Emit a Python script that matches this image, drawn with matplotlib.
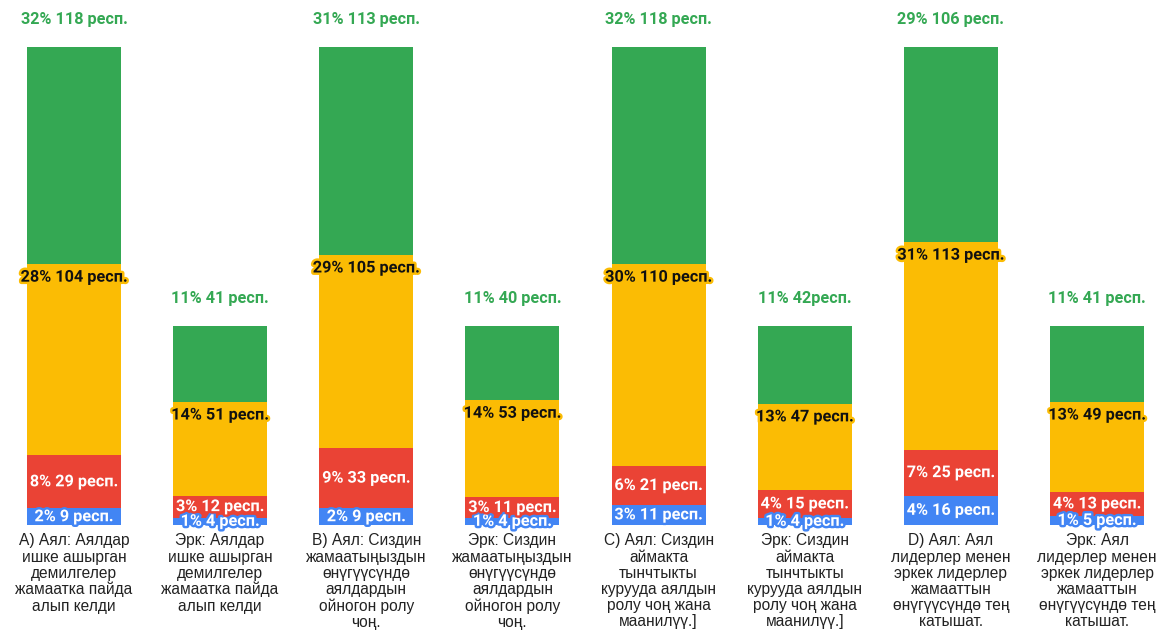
import matplotlib.pyplot as plt
import matplotlib.patheffects as pe
import numpy as np

# data (respondent counts and percents)
categories = [
    "А) Аял: Аялдар\nишке ашырган\nдемилгелер\nжамаатка пайда\nалып келди",
    "Эрк: Аялдар\nишке ашырган\nдемилгелер\nжамаатка пайда\nалып келди",
    "В) Аял: Сиздин\nжамаатыңыздын\nөнүгүүсүндө\nаялдардын\nойногон ролу\nчоң.",
    "Эрк: Сиздин\nжамаатыңыздын\nөнүгүүсүндө\nаялдардын\nойногон ролу\nчоң.",
    "С) Аял: Сиздин\nаймакта\nтынчтыкты\nкурууда аялдын\nролу чоң жана\nмаанилүү.]",
    "Эрк: Сиздин\nаймакта\nтынчтыкты\nкурууда аялдын\nролу чоң жана\nмаанилүү.]",
    "D) Аял: Аял\nлидерлер менен\nэркек лидерлер\nжамааттын\nөнүгүүсүндө тең\nкатышат.",
    "Эрк: Аял\nлидерлер менен\nэркек лидерлер\nжамааттын\nөнүгүүсүндө тең\nкатышат.",
]
blue = [9, 4, 9, 4, 11, 4, 16, 5]
red = [29, 12, 33, 11, 21, 15, 25, 13]
yellow = [104, 51, 105, 53, 110, 47, 113, 49]
green = [118, 41, 113, 40, 118, 42, 106, 41]
blue_pct = [2, 1, 2, 1, 3, 1, 4, 1]
red_pct = [8, 3, 9, 3, 6, 4, 7, 4]
yellow_pct = [28, 14, 29, 14, 30, 13, 31, 13]
green_labels = ["32% 118 респ.", "11% 41 респ.", "31% 113 респ.", "11% 40 респ.",
                "32% 118 респ.", "11% 42респ.", "29% 106 респ.", "11% 41 респ."]

c_blue = "#4285F4"
c_red = "#EA4335"
c_yellow = "#FBBC04"
c_green = "#34A853"

fig = plt.figure(figsize=(11.64, 6.33), dpi=100)
ax = fig.add_axes([0, 0.1706, 1, 0.8294])

x = np.arange(len(categories))
w = 0.643
b1 = np.array(blue)
b2 = b1 + np.array(red)
b3 = b2 + np.array(yellow)
top = b3 + np.array(green)

ax.bar(x, blue, w, color=c_blue)
ax.bar(x, red, w, bottom=b1, color=c_red)
ax.bar(x, yellow, w, bottom=b2, color=c_yellow)
ax.bar(x, green, w, bottom=b3, color=c_green)

lab = dict(family="Roboto", weight="bold", fontsize=11.7, ha="center", va="center")

for i in range(len(x)):
    # blue and red: centred in the segment
    ax.text(x[i], blue[i] / 2, f"{blue_pct[i]}% {blue[i]} респ.", color="white",
            path_effects=[pe.withStroke(linewidth=3.5, foreground=c_blue)], **lab)
    ax.text(x[i], b1[i] + red[i] / 2, f"{red_pct[i]}% {red[i]} респ.", color="white",
            path_effects=[pe.withStroke(linewidth=3.5, foreground=c_red)], **lab)
    # yellow: just under the segment top
    ax.annotate(f"{yellow_pct[i]}% {yellow[i]} респ.", (x[i], b3[i]), xytext=(0, -9.5),
                textcoords="offset points", color="#111111",
                path_effects=[pe.withStroke(linewidth=3.5, foreground=c_yellow)], **lab)
    # green: above the bar
    ax.annotate(green_labels[i], (x[i], top[i]), xytext=(0, 20),
                textcoords="offset points", color=c_green, **lab)

ax.set_xlim(-0.506, 7.458)
ax.set_ylim(0, 285.6)
ax.set_yticks([])
ax.set_xticks(x)
ax.set_xticklabels(categories, family="Liberation Sans", fontsize=11.2, color="#222222",
                   linespacing=1.1)
ax.tick_params(axis="x", length=0, pad=6)
for s in ax.spines.values():
    s.set_visible(False)

fig.savefig("out.png", dpi=100)
